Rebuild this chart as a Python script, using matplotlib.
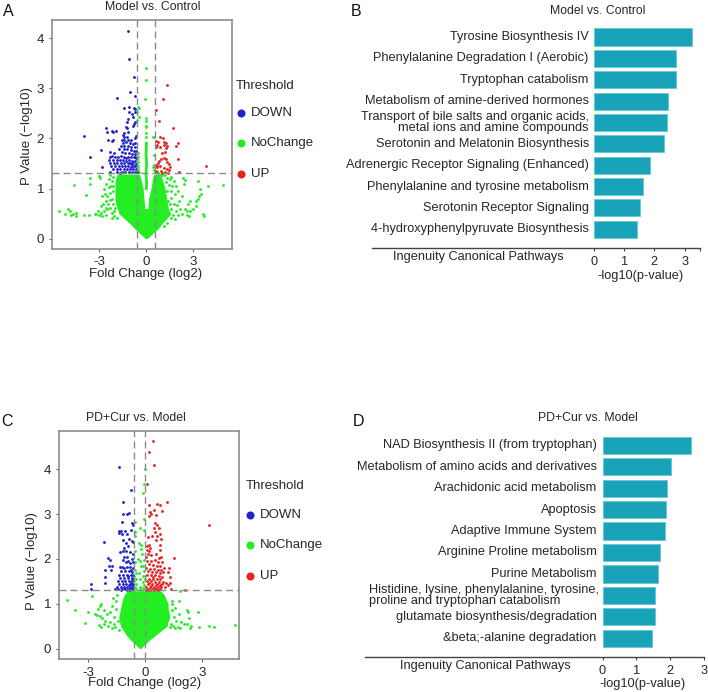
import numpy as np
import matplotlib
matplotlib.use("Agg")
import matplotlib.pyplot as plt

W, H = 708, 692
plt.rcParams['font.family'] = ['Liberation Sans', 'DejaVu Sans']
plt.rcParams['axes.unicode_minus'] = False

TXT = '#262626'
GREY = '#8a8a8a'
BLUE, GREEN, RED = '#2222cc', '#22ee22', '#e82222'
BAR = '#18a3b8'
BAR_EDGE = '#6cc8d6'

# --- Panel A: volcano, Model vs. Control (log2 FC, -log10 p)
a_down = [(-1.15,4.15),(-1.1,3.58),(-0.8,3.22),(-1.07,2.92),(-0.7,2.85),(-1.85,2.8),(-1.45,2.6),(-1.1,2.62),
(-0.8,2.6),(-0.7,2.58),(-1.1,2.52),(-0.9,2.48),(-0.75,2.53),(-1.2,2.38),(-1.25,2.33),(-0.85,2.43),(-0.75,2.32),
(-0.8,2.28),(-2.6,2.2),(-0.85,2.25),(-1.3,2.22),(-1.25,2.2),(-2.5,2.12),(-2.2,2.14),(-1.95,2.15),(-2.1,2.13),
(-4.0,2.05),(-1.4,2.1),(-1.15,2.12),(-1.5,2.06),(-1.45,2.02),(-1.25,2.03),(-0.65,2.05),(-0.75,2.0),(-2.45,1.97),
(-2.15,1.97),(-2.2,1.95),(-1.55,1.96),(-1.4,1.97),(-1.15,1.96),(-0.95,1.97),(-0.7,1.9),(-2.9,1.77),(-3.6,1.62),
(-1.5,1.9),(-1.3,1.92),(-1.05,1.9),(-0.85,1.88),(-1.6,1.85),(-1.4,1.84),(-1.2,1.85),(-0.95,1.82),(-0.7,1.82),
(-1.75,1.78),(-1.45,1.78),(-1.25,1.78),(-1.0,1.76),(-0.8,1.75),(-0.65,1.74),(-2.3,1.72),(-2.05,1.7),(-1.55,1.72),
(-1.35,1.7),(-1.1,1.7),(-0.9,1.68),(-0.7,1.68),(-2.35,1.62),(-2.2,1.64),(-2.0,1.63),(-1.8,1.62),(-1.6,1.64),
(-1.4,1.62),(-1.2,1.62),(-1.0,1.63),(-0.8,1.62),(-0.65,1.6),(-2.4,1.56),(-2.15,1.57),(-1.9,1.56),(-1.7,1.57),
(-1.5,1.56),(-1.3,1.55),(-1.1,1.56),(-0.9,1.55),(-0.72,1.55),(-2.3,1.5),(-2.05,1.5),(-1.85,1.51),(-1.6,1.5),
(-1.42,1.5),(-1.2,1.5),(-1.0,1.49),(-0.82,1.5),(-0.65,1.49),(-2.8,1.42),(-2.25,1.44),(-2.0,1.44),(-1.75,1.45),
(-1.55,1.44),(-1.35,1.44),(-1.15,1.44),(-0.95,1.43),(-0.75,1.44),(-2.1,1.38),(-1.9,1.38),(-1.65,1.39),(-1.45,1.38),
(-1.25,1.38),(-1.05,1.38),(-0.85,1.38),(-0.68,1.38),(-2.35,1.32),(-1.85,1.33),(-1.55,1.33),(-1.35,1.32),(-1.1,1.33),
(-0.9,1.32),(-0.72,1.32),(-1.7,1.31),(-0.62,1.33),(-1.3,1.6),(-0.85,1.44),(-0.75,1.62),(-1.05,1.5)]
a_up = [(1.3,3.06),(1.05,2.78),(0.6,2.57),(0.8,2.34),(1.7,2.2),(0.85,2.03),(1.05,2.0),(0.6,1.95),(0.75,1.93),
(1.1,1.92),(1.25,1.9),(2.0,1.9),(1.9,1.85),(0.7,1.87),(1.15,1.87),(1.3,1.85),(0.6,1.82),(0.85,1.82),(1.25,1.8),
(1.2,1.72),(1.0,1.7),(2.05,1.58),(0.95,1.58),(1.1,1.6),(1.25,1.58),(0.8,1.55),(1.35,1.53),(0.75,1.5),(1.45,1.48),
(0.6,1.47),(0.7,1.45),(1.5,1.43),(3.8,1.44),(0.65,1.42),(0.9,1.44),(1.1,1.4),(1.3,1.38),(1.45,1.36),(2.1,1.33),
(0.95,1.35),(1.2,1.33),(0.7,1.33),(1.0,1.31),(1.4,1.31),(0.6,1.34)]
a_none = [(0.0,3.41),(0.0,3.16),(-0.1,2.78),(-0.55,2.62),(-0.45,2.6),(-0.6,2.52),(-0.45,2.42),(-0.6,2.36),(-0.05,2.4),
(0.0,2.35),(0.0,2.25),(-0.05,2.22),(0.45,2.03),(0.5,2.02),(-0.05,2.1),(0.0,2.02),(-0.55,1.7),(-0.5,1.62),(-0.58,1.58),
(-0.5,1.52),(-0.55,1.45),(-0.58,1.4),(-0.5,1.38),(-0.55,1.33),(-0.45,1.32),(0.5,1.66),(0.48,1.46),(0.42,1.42),(0.5,1.37),
(0.55,1.33),(-5.55,0.55),(-5.0,0.6),(-4.9,0.55),(-5.2,0.5),(-4.8,0.47),(-4.7,0.5),(-4.5,0.52),(-4.5,0.45),(-4.0,0.48),
(-3.65,0.47),(-3.3,0.5),(-4.6,1.08),(-3.85,0.88),(-3.6,1.2),(-3.0,1.25),(-3.6,1.1),(-2.95,1.2),(-2.4,1.18),(-2.7,1.0),
(-3.2,0.5),(-3.1,0.55),(-3.0,0.47),(-2.9,0.52),(-2.8,0.46),(-2.7,0.55),(-2.6,0.48),(-2.5,0.6),(-2.9,0.65),(-2.75,0.7),
(-2.6,0.75),(-2.45,0.7),(-2.3,0.62),(-2.2,0.52),(-2.8,0.85),(-2.65,0.9),(-2.5,0.85),(-2.35,0.92),(-2.2,0.8),(-2.1,0.7),
(-2.4,1.03),(-2.25,1.06),(-2.15,0.95),(-2.55,1.1),(-2.2,1.15),(-2.1,1.22),(-2.3,1.26),(-2.05,0.55),(-2.1,1.05),(-2.35,0.78),
(-2.0,0.62),(-2.05,0.45),(-2.2,0.42),(-1.9,0.42),(-2.6,0.62),
(4.9,1.08),(3.95,1.05),(3.3,1.15),(3.45,1.0),(2.5,1.17),(2.35,1.2),(2.4,1.1),(3.5,0.9),(3.35,0.85),(2.8,0.75),(3.3,0.8),
(3.15,0.75),(3.2,0.65),(2.65,0.7),(3.6,0.5),(3.65,0.46),(3.0,0.6),(2.6,0.55),(2.7,0.45),(2.6,0.47),(2.8,0.55),(2.5,0.6),
(1.9,0.55),(2.25,0.85),(2.1,0.75),(2.05,0.95),(1.9,1.05),(1.75,1.15),(1.6,1.22),(1.8,0.9),(1.65,1.05),(1.5,1.18),(2.15,0.6),
(2.0,0.48),(1.85,0.4),(1.7,0.48),(1.75,0.7),(1.6,0.82),(1.55,0.95),(1.45,1.08),(1.35,1.2),(1.95,0.68),(1.6,0.6),(1.5,0.7),
(1.55,0.42),(1.4,0.75),(1.35,0.95),(1.25,1.12),(1.2,1.26),(1.45,0.5),(2.3,0.5),(1.35,0.32),(1.15,0.25),(1.0,1.27),(0.8,1.28)]
a_spine_y = [1.0, 1.1, 1.2, 1.3, 1.4, 1.5, 1.6, 1.7, 1.8, 1.9]
a_spine_x = [0.0, 0.02, 0.0, -0.02, 0.0, 0.02, 0.0, -0.02, 0.0, 0.0]

# dense green cloud, outline
a_low_y = [0, .1, .2, .3, .4, .5, .6]
a_low_left = [-.05, -.4, -.75, -1.05, -1.4, -1.75, -1.85]
a_low_right = [.05, .4, .75, 1.0, 1.3, 1.55, 1.4]
a_lobe_y = [.6, .7, .8, .9, 1.0, 1.1, 1.2, 1.29]
a_left_outer = [-1.85, -1.95, -2.0, -2.0, -2.0, -2.0, -1.95, -1.85]
a_left_inner = [-.1, -.12, -.15, -.18, -.2, -.28, -.35, -.45]
a_right_inner = [.1, .12, .15, .22, .3, .35, .4, .5]
a_right_outer = [1.4, 1.35, 1.3, 1.25, 1.2, 1.1, 1.0, .9]

# --- Panel C: volcano, PD+Cur vs. Model
c_down = [(-1.37,4.06),(-0.75,3.53),(-1.2,3.28),(-0.85,3.02),(-0.95,3.0),(-1.2,3.0),(-1.25,2.82),(-0.65,2.75),(-0.75,2.65),
(-0.7,2.8),(-1.4,2.63),(-1.3,2.62),(-1.4,2.58),(-1.05,2.62),(-0.95,2.55),(-1.25,2.55),(-2.2,2.38),(-0.85,2.45),(-1.0,2.35),
(-0.7,2.4),(-0.65,2.38),(-1.15,2.42),(-1.1,2.25),(-0.9,2.28),(-1.35,2.15),(-1.2,2.18),(-1.0,2.18),(-0.8,2.15),(-0.65,2.12),
(-1.95,2.03),(-1.85,1.98),(-1.75,1.85),(-1.1,2.05),(-0.95,2.05),(-1.15,1.98),(-0.9,1.96),(-0.7,2.0),(-1.0,1.92),(-0.8,1.9),
(-0.65,1.92),(-2.85,1.45),(-2.85,1.33),(-2.1,1.47),(-2.1,1.6),(-2.1,1.75),(-1.9,1.85),(-1.8,1.75),(-1.35,1.82),(-1.25,1.82),
(-1.1,1.8),(-0.95,1.82),(-0.8,1.82),(-0.65,1.8),(-1.3,1.72),(-1.05,1.72),(-0.85,1.72),(-0.7,1.7),(-1.4,1.65),(-1.2,1.65),
(-0.95,1.65),(-0.75,1.63),(-0.63,1.65),(-1.35,1.58),(-1.1,1.58),(-0.9,1.57),(-0.72,1.58),(-1.45,1.5),(-1.25,1.5),(-1.05,1.5),
(-0.85,1.5),(-0.68,1.5),(-1.4,1.44),(-1.2,1.44),(-1.0,1.44),(-0.8,1.43),(-0.65,1.44),(-1.5,1.38),(-1.3,1.38),(-1.12,1.38),
(-0.95,1.38),(-0.78,1.38),(-0.66,1.38),(-1.6,1.33),(-1.45,1.33),(-1.22,1.33),(-1.05,1.32),(-0.88,1.33),(-0.72,1.32),(-0.63,1.32),
(-1.3,1.31),(-0.95,1.31),(-0.8,1.31),(-0.9,1.62),(-0.75,1.75),(-0.7,1.55),(-0.75,1.47),(-0.85,1.41),(-0.72,1.41),(-0.68,1.34)]
c_up = [(0.4,4.64),(0.2,4.38),(0.45,4.1),(0.1,3.66),(1.15,3.28),(0.75,3.2),(0.6,3.22),(0.2,3.2),(0.9,3.07),(0.45,3.08),
(0.25,3.05),(0.3,3.0),(0.55,2.98),(0.2,2.95),(3.37,2.75),(0.5,2.8),(0.6,2.75),(0.45,2.7),(0.7,2.68),(0.5,2.6),(0.75,2.55),
(0.6,2.5),(0.85,2.45),(0.35,2.5),(0.15,2.48),(0.55,2.42),(0.2,2.3),(0.1,2.28),(0.25,2.25),(0.08,2.2),(0.2,2.18),(0.75,2.3),
(0.8,2.2),(0.55,2.12),(0.15,2.1),(0.3,2.08),(0.05,2.05),(0.72,2.02),(0.85,2.05),(1.5,2.03),(0.1,1.95),(0.3,1.95),(0.5,1.98),
(0.65,1.92),(0.9,1.93),(0.2,1.88),(0.4,1.86),(0.6,1.85),(0.8,1.85),(1.25,1.8),(1.0,1.8),(0.05,1.8),(0.25,1.78),(0.45,1.78),
(0.65,1.76),(0.85,1.75),(1.2,1.7),(0.15,1.72),(0.35,1.7),(0.55,1.7),(0.75,1.68),(0.95,1.7),(1.3,1.6),(0.1,1.63),(0.3,1.63),
(0.5,1.63),(0.7,1.62),(0.9,1.6),(0.2,1.56),(0.4,1.56),(0.6,1.55),(0.8,1.55),(0.1,1.5),(0.3,1.5),(0.5,1.48),(0.7,1.48),(0.95,1.48),
(1.1,1.47),(1.3,1.47),(0.15,1.44),(0.35,1.43),(0.55,1.42),(0.75,1.42),(0.9,1.43),(1.2,1.42),(0.05,1.38),(0.25,1.38),(0.45,1.37),
(0.65,1.37),(0.85,1.38),(1.05,1.38),(0.15,1.33),(0.35,1.33),(0.55,1.32),(0.75,1.33),(1.35,1.33),(2.1,1.3),(0.1,1.31),(0.25,1.31),
(0.45,1.31),(0.65,1.31),(0.2,1.46),(0.4,1.6),(0.6,1.45),(0.3,1.4),(0.5,1.35)]
c_none = [(0.0,4.0),(-0.05,3.66),(-0.1,3.47),(-0.05,2.9),(-0.55,2.82),(-0.3,2.7),(-0.05,2.65),(-0.55,2.6),(-0.55,2.5),(-0.35,2.35),
(-0.2,2.3),(-0.25,2.22),(-0.55,2.18),(-0.15,2.1),(-0.4,2.0),(-0.3,1.95),(-0.05,1.98),(-0.55,1.92),(-0.2,1.85),(-0.1,1.85),
(-0.55,1.75),(-0.5,1.68),(-0.58,1.62),(-0.5,1.56),(-0.58,1.5),(-0.5,1.44),(-0.55,1.38),(-0.5,1.33),(-0.05,1.72),(-0.1,1.62),
(-0.03,1.55),(-0.12,1.48),(-0.05,1.42),(-0.1,1.36),(-0.03,1.32),(-0.28,1.38),(-0.3,1.32),(-0.35,1.68),(-0.3,1.55),
(-4.1,1.08),(-3.7,0.87),(-3.0,0.82),(-3.2,0.56),(-2.8,1.17),(-2.35,1.0),(-2.4,0.95),(-2.5,0.88),(-2.65,0.78),(-2.55,0.75),(-2.4,0.72),
(-2.3,0.68),(-2.45,0.52),(-2.35,0.48),(-2.15,0.55),(-2.2,0.85),(-2.0,0.78),(-2.1,0.62),(-1.95,0.5),(-1.85,0.6),(-1.85,0.82),(-1.75,0.95),
(-1.7,1.12),(-1.65,0.7),(-1.6,0.48),(-1.55,0.88),(-1.55,1.05),(-1.5,1.2),(-1.45,0.62),(-1.4,0.42),(-1.65,0.55),(-1.75,0.45),
(4.7,0.52),(3.6,0.47),(3.35,0.5),(2.85,0.47),(2.4,0.5),(2.35,0.45),(2.2,0.55),(1.85,0.45),(2.75,0.82),(2.2,0.87),(2.25,0.82),(2.3,0.68),
(1.85,1.28),(1.8,1.05),(1.4,1.05),(1.4,1.0),(1.55,0.9),(1.75,0.78),(1.5,0.7),(1.6,0.62),(1.45,0.5),(1.9,0.6),(2.05,0.55),
(1.35,0.55),(1.3,0.48),(1.4,0.85),(1.7,0.48),(1.55,0.45)]

c_low_y = [0, .1, .2, .3, .4, .5, .6, .7, .8, .9, 1.0, 1.1, 1.2, 1.29]
c_low_left = [-.3, -.55, -.8, -1.0, -1.15, -1.3, -1.35, -1.4, -1.35, -1.3, -1.25, -1.2, -1.1, -.95]
c_low_right = [-.25, 0.0, .25, .55, .85, 1.15, 1.2, 1.3, 1.25, 1.2, 1.2, 1.1, 1.0, .8]

# --- Panels B and D: pathway bars
b_labels = ['Tyrosine Biosynthesis IV', 'Phenylalanine Degradation I (Aerobic)', 'Tryptophan catabolism',
            'Metabolism of amine-derived hormones',
            'Transport of bile salts and organic acids,\nmetal ions and amine compounds',
            'Serotonin and Melatonin Biosynthesis', 'Adrenergic Receptor Signaling (Enhanced)',
            'Phenylalanine and tyrosine metabolism', 'Serotonin Receptor Signaling',
            '4-hydroxyphenylpyruvate Biosynthesis']
b_values = [3.26, 2.73, 2.73, 2.46, 2.41, 2.32, 1.86, 1.61, 1.52, 1.41]

d_labels = ['NAD Biosynthesis II (from tryptophan)', 'Metabolism of amino acids and derivatives',
            'Arachidonic acid metabolism', 'Apoptosis', 'Adaptive Immune System', 'Arginine Proline metabolism',
            'Purine Metabolism',
            'Histidine, lysine, phenylalanine, tyrosine,\nproline and tryptophan catabolism',
            'glutamate biosynthesis/degradation', '&beta;-alanine degradation']
d_values = [2.62, 2.02, 1.91, 1.88, 1.84, 1.70, 1.64, 1.535, 1.535, 1.45]


def make_axes(fig, left, top, right, bottom):
    return fig.add_axes([left / W, 1 - bottom / H, (right - left) / W, (bottom - top) / H])


def ftext(fig, x, y, s, size=9, **kw):
    kw.setdefault('va', 'center')
    kw.setdefault('color', TXT)
    return fig.text(x / W, 1 - y / H, s, fontsize=size, **kw)


def volcano(ax, down, up, none, xlim, ylim, xticks, yticks, vlines):
    for pts, col in ((none, GREEN), (down, BLUE), (up, RED)):
        xy = np.array(pts)
        ax.scatter(xy[:, 0], xy[:, 1], s=4.2, c=col, linewidths=0, zorder=3)
    for v in vlines:
        ax.axvline(v, color=GREY, lw=1, dashes=(5, 3), zorder=4)
    ax.axhline(1.3, color=GREY, lw=1, dashes=(5, 3), zorder=4)
    ax.set_xlim(*xlim)
    ax.set_ylim(*ylim)
    ax.set_xticks(xticks)
    ax.set_yticks(yticks)
    ax.tick_params(labelsize=9.5, length=2.5, width=0.8, color='#666666', labelcolor=TXT, pad=3)
    for s in ax.spines.values():
        s.set_color('#8c8c8c')
        s.set_linewidth(1.2)


def legend(fig, title_x, title_y, dot_x, text_x, rows):
    ftext(fig, title_x, title_y, 'Threshold', 9.5)
    for (y, name), col in zip(rows, (BLUE, GREEN, RED)):
        fig.add_artist(plt.Line2D([dot_x / W], [1 - y / H], marker='o', ms=5.8, mfc=col, mec=col,
                                  mew=0, ls='none', transform=fig.transFigure))
        ftext(fig, text_x, y, name, 9.5)


def bars(ax, labels, values, ylim, xlim, ticks, title_y_hint=None):
    pos = np.arange(len(values))
    ax.barh(pos, values, height=0.8, color=BAR, edgecolor=BAR_EDGE, linewidth=0.7)
    ax.set_xlim(*xlim)
    ax.set_ylim(*ylim)
    ax.set_xticks(ticks)
    ax.set_yticks([])
    ax.tick_params(axis='x', labelsize=9.2, length=2.5, width=0.8, color='#444444', labelcolor=TXT, pad=3)
    for side in ('top', 'left', 'right'):
        ax.spines[side].set_visible(False)
    ax.spines['bottom'].set_color('#444444')
    ax.spines['bottom'].set_linewidth(1.0)
    for i, lab in enumerate(labels):
        ma = 'left' if lab.startswith('Histidine') else 'right'
        ax.text(-0.17 if ma == 'right' else -0.11, i, lab, ha='right', va='center', fontsize=9.2,
                color=TXT, multialignment=ma, linespacing=0.85)


fig = plt.figure(figsize=(W / 100, H / 100), dpi=100)

# Panel A
ax = make_axes(fig, 51.7, 20, 231.7, 248.7)
ax.fill_betweenx(a_low_y, a_low_left, a_low_right, color=GREEN, lw=0, zorder=2)
ax.fill_betweenx(a_lobe_y, a_left_outer, a_left_inner, color=GREEN, lw=0, zorder=2)
ax.fill_betweenx(a_lobe_y, a_right_inner, a_right_outer, color=GREEN, lw=0, zorder=2)
ax.plot(a_spine_x, a_spine_y, color=GREEN, lw=2, zorder=2)
volcano(ax, a_down, a_up, a_none, (-6.04, 5.45), (-0.2, 4.36), [-3, 0, 3], [0, 1, 2, 3, 4], [-0.6, 0.57])
ftext(fig, 146, 274, 'Fold Change (log2)', 9.5, ha='center')
ftext(fig, 27, 136, 'P Value (\u2212log10)', 9.5, ha='center', rotation=90)
ftext(fig, 153, 7, 'Model vs. Control', 8.8, ha='center')
legend(fig, 236, 86, 241, 251, [(113, 'DOWN'), (143, 'NoChange'), (174, 'UP')])

# Panel C
ax = make_axes(fig, 58.7, 430.7, 239.3, 659.3)
ax.fill_betweenx(c_low_y, c_low_left, c_low_right, color=GREEN, lw=0, zorder=2)
volcano(ax, c_down, c_up, c_none, (-4.56, 4.95), (-0.24, 4.86), [-3, 0, 3], [0, 1, 2, 3, 4], [-0.61, 0.0])
ftext(fig, 145, 683, 'Fold Change (log2)', 9.5, ha='center')
ftext(fig, 32, 561, 'P Value (\u2212log10)', 9.5, ha='center', rotation=90)
ftext(fig, 135.5, 418, 'PD+Cur vs. Model', 8.8, ha='center')
legend(fig, 245.7, 485.7, 250, 260, [(515, 'DOWN'), (544.7, 'NoChange'), (575.7, 'UP')])

# Panel B
ax = make_axes(fig, 372, 20, 700, 248.3)
bars(ax, b_labels, b_values, (9.89, -0.795), (-7.35, 3.51), [0, 1, 2, 3, 3.5])
ax.set_xticklabels(['0', '1', '2', '3', ''])
ftext(fig, 478, 257, 'Ingenuity Canonical Pathways', 9.2, ha='center')
ftext(fig, 640, 276, '-log10(p-value)', 9.2, ha='center')
ftext(fig, 598, 11, 'Model vs. Control', 8.8, ha='center')

# Panel D
ax = make_axes(fig, 365, 425, 704.3, 657)
bars(ax, d_labels, d_values, (9.87, -0.94), (-7.0, 3.0), [0, 1, 2, 3])
ftext(fig, 485, 666, 'Ingenuity Canonical Pathways', 9.2, ha='center')
ftext(fig, 643, 684, '-log10(p-value)', 9.2, ha='center')
ftext(fig, 588, 418, 'PD+Cur vs. Model', 8.8, ha='center')

# panel letters
for s, x, y in (('A', 8, 12), ('B', 356, 12), ('C', 7, 421), ('D', 359, 421)):
    ftext(fig, x, y, s, 11.5, ha='center', color='#111111')

fig.savefig('out.png', dpi=100)
